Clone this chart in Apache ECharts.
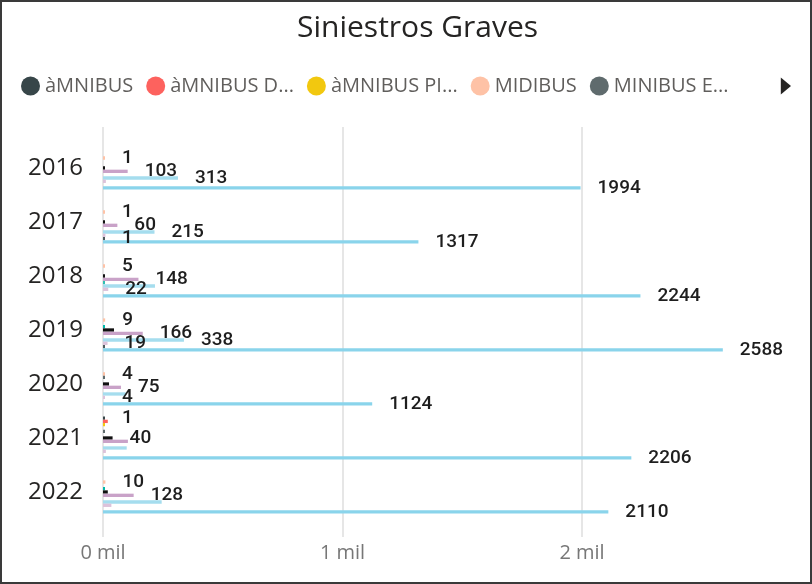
<!DOCTYPE html>
<html>
<head>
<meta charset="utf-8">
<script src="https://cdn.jsdelivr.net/npm/echarts@6/dist/echarts.min.js"></script>
<style>
  html, body { margin: 0; padding: 0; background: #ffffff; }
  #wrap { position: relative; width: 812px; height: 584px; }
  #chart { width: 812px; height: 584px; }
  #frame { position: absolute; left: 0; top: 0; width: 812px; height: 584px;
           box-sizing: border-box; border: 2px solid #3a3a3a; pointer-events: none; }
</style>
</head>
<body>
<div id="wrap"><div id="chart"></div><div id="frame"></div></div>
<script>
// Years on the category axis (top to bottom)
const years = ['2016', '2017', '2018', '2019', '2020', '2021', '2022'];

// Vehicle types, in legend / bar order
const seriesNames = [
  'àMNIBUS', 'àMNIBUS DIFERENCIAL', 'àMNIBUS PISO BAJO', 'MIDIBUS', 'MINIBUS EMPRESA',
  'MICROBUS', 'MOTOCICLETA', 'CAMIONETA', 'MINIBUS', 'CAMIÓN', 'BICICLETA', 'REMOLQUE', 'AUTOMÓVIL'
];

// Serious accidents per year for each vehicle type (null = no record)
const omnibus      = [null, null, null, null, null, 1, null];
const omnibusDif   = [null, null, null, null, null, 20, null];
const omnibusPiso  = [null, null, null, null, null, 3, null];
const midibus      = [1, 1, 5, 9, 4, null, 10];
const minibusEmp   = [null, null, null, null, 3, 2, null];
const microbus     = [null, null, null, 3, null, null, 3];
const motocicleta  = [4, 5, 4, 46, 25, 40, 20];
const camioneta    = [103, 60, 148, 166, 75, 104, 128];
const minibus      = [null, null, 2, null, null, null, null];
const camion       = [313, 215, 217, 338, 95, 99, 245];
const bicicleta    = [12, 10, 22, 19, 4, 12, 35];
const remolque     = [null, 1, null, 2, null, null, null];
const automovil    = [1994, 1317, 2244, 2588, 1124, 2206, 2110];

const seriesValues = [omnibus, omnibusDif, omnibusPiso, midibus, minibusEmp, microbus,
  motocicleta, camioneta, minibus, camion, bicicleta, remolque, automovil];

// Bars whose value label is displayed (the rest would collide with neighbours)
const labelledBars = [
  ['àMNIBUS', '2021'],
  ['MIDIBUS', '2016'], ['MIDIBUS', '2017'], ['MIDIBUS', '2018'], ['MIDIBUS', '2019'],
  ['MIDIBUS', '2020'], ['MIDIBUS', '2022'],
  ['MOTOCICLETA', '2021'],
  ['CAMIONETA', '2016'], ['CAMIONETA', '2017'], ['CAMIONETA', '2018'], ['CAMIONETA', '2019'],
  ['CAMIONETA', '2020'], ['CAMIONETA', '2022'],
  ['CAMIÓN', '2016'], ['CAMIÓN', '2017'], ['CAMIÓN', '2019'],
  ['BICICLETA', '2018'], ['BICICLETA', '2019'], ['BICICLETA', '2020'],
  ['REMOLQUE', '2017'],
  ['AUTOMÓVIL', '2016'], ['AUTOMÓVIL', '2017'], ['AUTOMÓVIL', '2018'], ['AUTOMÓVIL', '2019'],
  ['AUTOMÓVIL', '2020'], ['AUTOMÓVIL', '2021'], ['AUTOMÓVIL', '2022']
];

const seriesColors = ['#374649', '#FD625E', '#F2C80F', '#FEC2A6', '#5F6B6D', '#01B8AA',
  '#111111', '#C9A2C8', '#2FBFB2', '#A5DDEE', '#DCC2DA', '#4E5A5C', '#8AD4EB'];

const uiFont = "'Open Sans', 'Noto Sans', sans-serif";
const labelFont = "Roboto, 'Noto Sans', sans-serif";

// Value axis: 0 to 2800, with grid lines every 1000
const axisMax = 2800;
const axisStep = 1000;

// Shorten long legend names with an ellipsis so they fit a fixed width
const measureCtx = document.createElement('canvas').getContext('2d');
function fitLegendName(name, maxWidth, font) {
  measureCtx.font = font;
  if (measureCtx.measureText(name).width <= maxWidth) return name;
  let s = name;
  while (s.length > 1 && measureCtx.measureText(s.trimEnd() + '...').width > maxWidth) {
    s = s.slice(0, -1);
  }
  return s.trimEnd() + '...';
}

const isLabelled = (name, year) => labelledBars.some(p => p[0] === name && p[1] === year);

const barSeries = seriesNames.map((name, si) => ({
  type: 'bar',
  name: name,
  xAxisIndex: 0,
  yAxisIndex: 0,
  barGap: '0%',
  barCategoryGap: '20%',
  barMinHeight: 2,
  silent: true,
  itemStyle: { color: seriesColors[si] },
  label: {
    show: false,
    position: 'right',
    distance: 17,
    fontFamily: labelFont,
    fontWeight: 500,
    fontSize: 19,
    color: '#1e1e1e'
  },
  data: seriesValues[si].map((v, yi) => v == null ? '-' : {
    value: v,
    label: { show: isLabelled(name, years[yi]) }
  })
}));

const plotWidth = 670.6;

const chart = echarts.init(document.getElementById('chart'), null, { renderer: 'canvas' });
chart.setOption({
  animation: false,
  backgroundColor: '#ffffff',
  title: {
    text: 'Siniestros Graves',
    left: 292,
    top: 8,
    textStyle: { fontSize: 30, fontWeight: 'normal', color: '#252423', fontFamily: uiFont }
  },
  legend: {
    type: 'scroll',
    left: 16,
    width: 770,
    top: 71,
    icon: 'circle',
    itemWidth: 19,
    itemHeight: 19,
    itemGap: 13,
    data: seriesNames,
    textStyle: { fontSize: 20, color: '#605E5C', fontFamily: uiFont },
    formatter: name => fitLegendName(name, 128, "20px 'Open Sans'"),
    pageFormatter: () => '',
    pageButtonGap: 8,
    pageButtonItemGap: 4,
    pageIconSize: [11, 17],
    pageIconColor: '#252423',
    pageIconInactiveColor: 'rgba(0,0,0,0)'
  },
  grid: [
    { left: 103, width: plotWidth, top: 141, bottom: 65, outerBoundsMode: 'none' },
    { left: 103, width: plotWidth, top: 127, bottom: 47, outerBoundsMode: 'none' }
  ],
  xAxis: [
    { gridIndex: 0, type: 'value', min: 0, max: axisMax, interval: axisStep, show: false },
    {
      gridIndex: 1, type: 'value', min: 0, max: axisMax, interval: axisStep,
      axisLine: { show: false },
      axisTick: { show: false },
      splitLine: { show: true, showMaxLine: false, lineStyle: { color: '#E6E6E6', width: 2 } },
      axisLabel: {
        formatter: v => (v % axisStep === 0 ? (v / 1000) + ' mil' : ''),
        showMaxLabel: false,
        color: '#777777',
        fontSize: 20,
        fontFamily: uiFont,
        margin: 6
      }
    }
  ],
  yAxis: [
    {
      gridIndex: 0, type: 'category', data: years, inverse: true,
      axisLine: { show: false },
      axisTick: { show: false },
      splitLine: { show: false },
      axisLabel: { color: '#252423', fontSize: 24, fontFamily: uiFont, margin: 20 }
    },
    { gridIndex: 1, type: 'value', show: false }
  ],
  series: barSeries
});
</script>
</body>
</html>
